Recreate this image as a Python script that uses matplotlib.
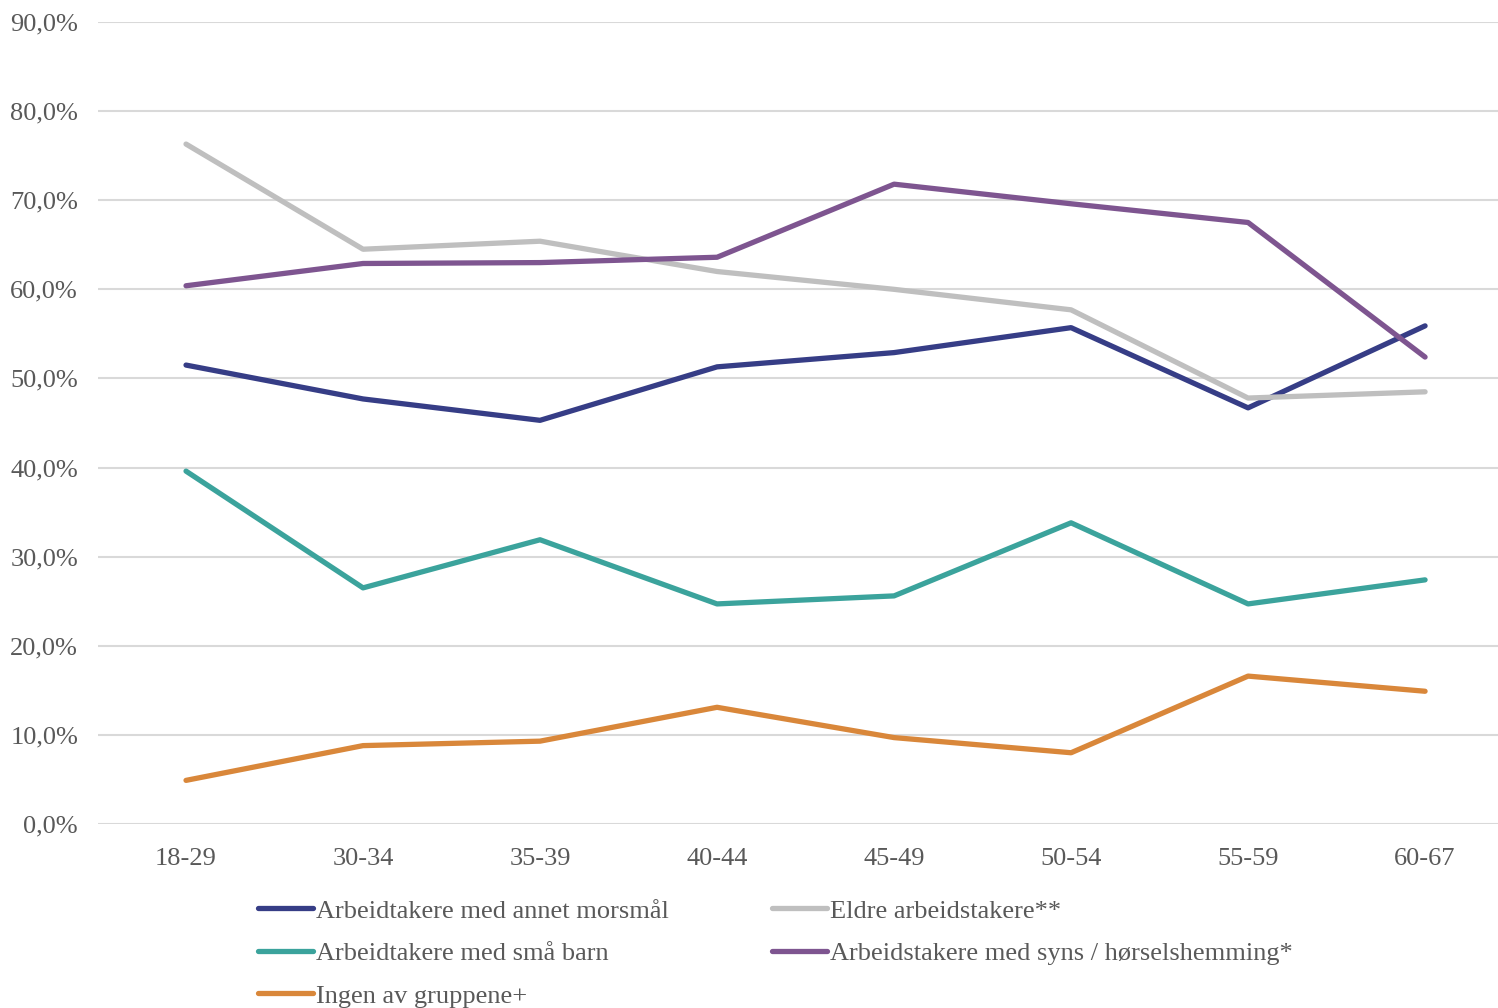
import matplotlib.pyplot as plt
from matplotlib.ticker import FuncFormatter

# age groups
ages = ['18-29', '30-34', '35-39', '40-44', '45-49', '50-54', '55-59', '60-67']

# share (%) per group
annet_morsmaal = [51.5, 47.7, 45.3, 51.3, 52.9, 55.7, 46.7, 55.9]
eldre = [76.3, 64.5, 65.4, 62.0, 60.0, 57.7, 47.8, 48.5]
smaa_barn = [39.6, 26.5, 31.9, 24.7, 25.6, 33.8, 24.7, 27.4]
syns_horsel = [60.4, 62.9, 63.0, 63.6, 71.8, 69.6, 67.5, 52.4]
ingen = [4.9, 8.8, 9.3, 13.1, 9.7, 8.0, 16.6, 14.9]

plt.rcParams['font.family'] = ['Liberation Serif', 'DejaVu Serif']
txt_col = '#595959'

fig = plt.figure(figsize=(14.98, 10.08), dpi=100)
ax = fig.add_axes([0.0651, 0.1825, 0.9453, 0.7957])

x = range(len(ages))
lw = 3.8
l1, = ax.plot(x, annet_morsmaal, color='#363D86', lw=lw, solid_capstyle='round',
              label='Arbeidtakere med annet morsmål')
l2, = ax.plot(x, eldre, color='#BFBFBF', lw=lw, solid_capstyle='round',
              label='Eldre arbeidstakere**')
l3, = ax.plot(x, smaa_barn, color='#3BA39C', lw=lw, solid_capstyle='round',
              label='Arbeidtakere med små barn')
l4, = ax.plot(x, syns_horsel, color='#7E5590', lw=lw, solid_capstyle='round',
              label='Arbeidstakere med syns / hørselshemming*')
l5, = ax.plot(x, ingen, color='#D9873A', lw=lw, solid_capstyle='round',
              label='Ingen av gruppene+')

ax.set_xlim(-0.5, 7.5)
ax.set_ylim(0, 90)
ax.set_yticks(range(0, 91, 10))
ax.yaxis.set_major_formatter(FuncFormatter(lambda v, p: '{0:.1f}%'.format(v).replace('.', ',')))
ax.set_xticks(list(x))
ax.set_xticklabels(ages)
ax.grid(axis='y', color='#D9D9D9', lw=1.5)
ax.set_axisbelow(True)
for s in ax.spines.values():
    s.set_visible(False)
ax.tick_params(length=0, labelsize=19, colors=txt_col)
ax.tick_params(axis='x', pad=17)
ax.tick_params(axis='y', pad=14)

# column-major fill so the rows match the reference
fig.legend(handles=[l1, l3, l5, l2, l4], loc='upper left', ncol=2,
           bbox_to_anchor=(0.172, 0.108), frameon=False, fontsize=19,
           labelcolor=txt_col, handlelength=2.1, handletextpad=0.1,
           columnspacing=3.9, labelspacing=0.72, borderaxespad=0, borderpad=0)

fig.savefig('out.png', dpi=100)
